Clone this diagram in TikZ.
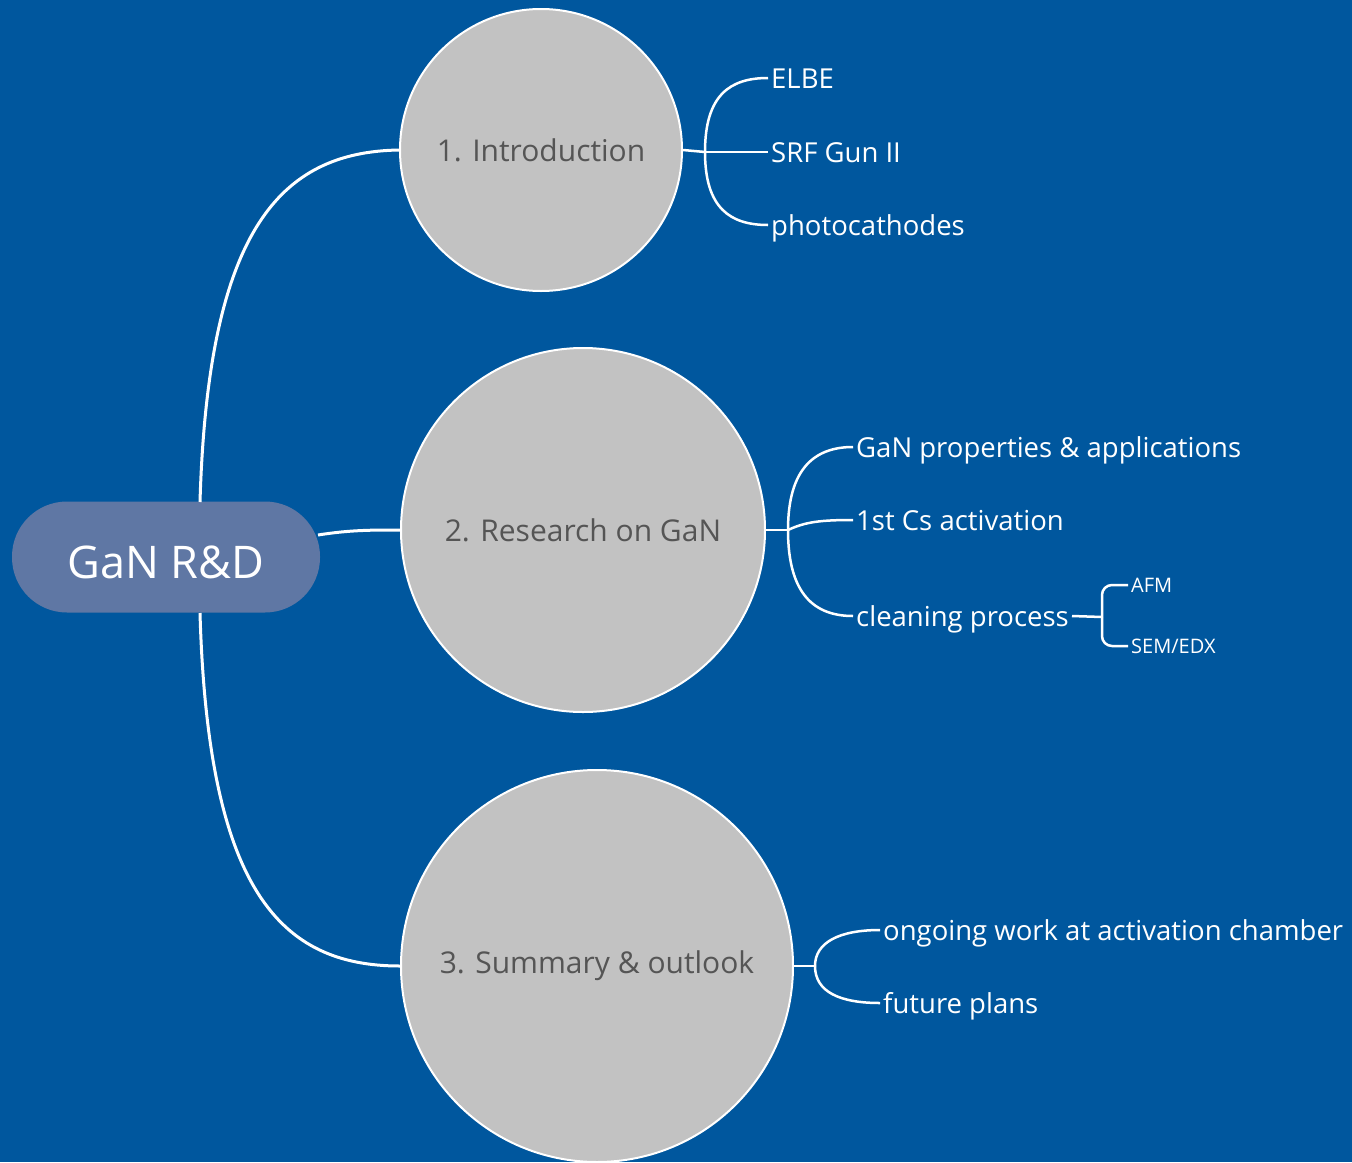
\documentclass[tikz,border=0pt]{standalone}
\usepackage{fontspec}
\setmainfont{Open Sans}
\usetikzlibrary{calc}
\definecolor{bgblue}{RGB}{0,87,158}
\definecolor{mainfill}{RGB}{95,119,164}
\definecolor{circfill}{RGB}{194,194,194}
\definecolor{circtext}{RGB}{85,85,85}
\tikzset{
  mainnode/.style={draw=none,fill=mainfill,rounded corners=55pt,minimum width=308pt,minimum height=111pt,text=white,font=\fontsize{45}{50}\selectfont,text height=42pt,text depth=0pt},
  topic/.style={circle,draw=white,line width=2pt,fill=circfill,text=circtext,font=\fontsize{30}{34}\selectfont,inner sep=0pt},
  leaf/.style={anchor=west,text=white,inner sep=3pt,font=\fontsize{27.5}{32}\selectfont,text height=20pt,text depth=0pt},
  smallleaf/.style={anchor=west,text=white,inner sep=3pt,font=\fontsize{20}{24}\selectfont,text height=14.5pt,text depth=0pt},
  conn/.style={draw=white,line width=3pt},
  branch/.style={draw=white,line width=2.5pt},
}
\begin{document}
\begin{tikzpicture}[x=1pt,y=-1pt]
\fill[bgblue] (0,0) rectangle (1352,1162);
\useasboundingbox (0,0) rectangle (1352,1162);

\node[mainnode] (main) at (166,557) {GaN R\&D};
\node[topic,minimum size=282pt] (c1) at (541,150) {1. Introduction};
\node[topic,minimum size=364pt] (c2) at (583,530) {2. Research on GaN};
\node[topic,minimum size=392pt] (c3) at (597,966) {3. Summary \& outlook};

% main connectors
\coordinate (mtop) at (200,502);
\coordinate (mbot) at (200,613);
\coordinate (mright) at (318,535);
\draw[conn] (mtop) .. controls (208,230) and (280,152) .. (c1.west);
\draw[conn] (mright) .. controls (350,530) and (370,530) .. (c2.west);
\draw[conn] (mbot) .. controls (208,890) and (280,966) .. (c3.west);

% circle 1 branches
\node[leaf] (elbe) at (768,78) {ELBE};
\node[leaf] (srf) at (768,152) {SRF Gun II};
\node[leaf] (photo) at (768,225) {photocathodes};
\coordinate (j1) at (705,152);
\draw[branch] (c1.east) -- (j1);
\draw[branch] (j1) .. controls (705,95) and (730,78) .. (elbe.west);
\draw[branch] (j1) -- (srf.west);
\draw[branch] (j1) .. controls (705,208) and (730,225) .. (photo.west);

% circle 2 branches
\node[leaf] (gan) at (853,447) {GaN properties \& applications};
\node[leaf] (cs) at (853,520) {1st Cs activation};
\node[leaf] (clean) at (853,616) {cleaning process};
\coordinate (j2) at (788,530);
\draw[branch] (c2.east) -- (j2);
\draw[branch] (j2) .. controls (788,468) and (815,447) .. (gan.west);
\draw[branch] (j2) .. controls (805,522) and (820,520) .. (cs.west);
\draw[branch] (j2) .. controls (788,595) and (815,616) .. (clean.west);

% cleaning sub-branches
\node[smallleaf] (afm) at (1128,585) {AFM};
\node[smallleaf] (sem) at (1128,646) {SEM/EDX};
\coordinate (j4) at (1102,617);
\draw[branch] (clean.east) -- (j4);
\draw[branch,rounded corners=10pt] (j4) |- (afm.west);
\draw[branch,rounded corners=10pt] (j4) |- (sem.west);

% circle 3 branches
\node[leaf] (ongo) at (880,930) {ongoing work at activation chamber};
\node[leaf] (fut) at (880,1003) {future plans};
\coordinate (j3) at (815,966);
\draw[branch] (c3.east) -- (j3);
\draw[branch] (j3) .. controls (815,942) and (840,930) .. (ongo.west);
\draw[branch] (j3) .. controls (815,992) and (840,1003) .. (fut.west);
\end{tikzpicture}
\end{document}
